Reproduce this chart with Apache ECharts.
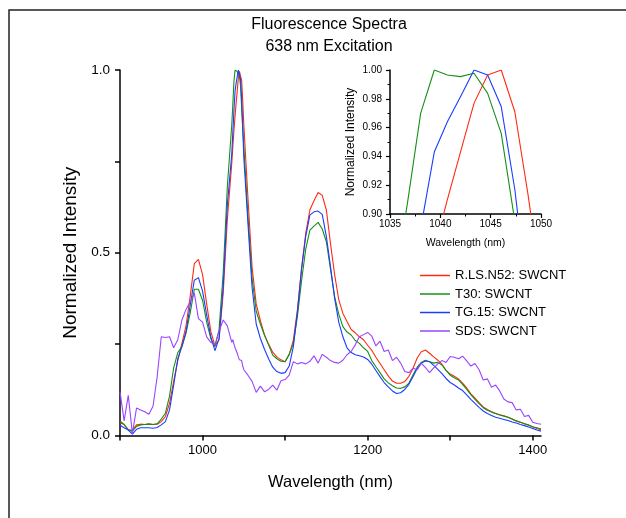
<!DOCTYPE html>
<html>
<head>
<meta charset="utf-8">
<script src="https://cdn.jsdelivr.net/npm/echarts@6/dist/echarts.min.js"></script>
<style>
  html, body { margin: 0; padding: 0; background: #fff; }
  #chart { width: 626px; height: 518px; }
</style>
</head>
<body>
<div id="chart"></div>
<script>
// wavelength grid (nm), finer around the 1045 nm peak shown in the inset
var wavelengths = [
  900, 905, 910, 915, 920, 925, 930, 935, 940, 945, 950, 955, 960, 965, 970, 975, 980, 985, 990, 995,
  1000, 1005, 1010, 1015, 1020, 1025, 1030,
  1035.4, 1036.7, 1038.05, 1039.4, 1040.7, 1042.0, 1043.35, 1044.7, 1046.05, 1047.4, 1048.7, 1050.0,
  1055, 1060, 1065, 1070, 1075, 1080, 1085, 1090, 1095, 1100,
  1105, 1110, 1115, 1120, 1125, 1130, 1135, 1140, 1145, 1150,
  1155, 1160, 1165, 1170, 1175, 1180, 1185, 1190, 1195, 1200,
  1205, 1210, 1215, 1220, 1225, 1230, 1235, 1240, 1245, 1250,
  1255, 1260, 1265, 1270, 1275, 1280, 1285, 1290, 1295, 1300,
  1305, 1310, 1315, 1320, 1325, 1330, 1335, 1340, 1345, 1350,
  1355, 1360, 1365, 1370, 1375, 1380, 1385, 1390, 1395, 1400,
  1405, 1410
]

var rlsN52 = [
  0.035, 0.03, 0.015, 0.015, 0.029, 0.031, 0.03, 0.032, 0.03, 0.031, 0.038, 0.052, 0.088, 0.148, 0.205, 0.252, 0.30, 0.38, 0.47, 0.482,
  0.44, 0.36, 0.285, 0.245, 0.262, 0.389, 0.59,
  0.745, 0.79, 0.835, 0.875, 0.91, 0.943, 0.977, 0.9965, 1.0, 0.971, 0.914, 0.85,
  0.65, 0.46, 0.36, 0.315, 0.275, 0.25, 0.228, 0.215, 0.207, 0.202,
  0.222, 0.261, 0.345, 0.458, 0.553, 0.617, 0.642, 0.665, 0.657, 0.617,
  0.525, 0.44, 0.372, 0.334, 0.312, 0.29, 0.281, 0.27, 0.262, 0.247,
  0.233, 0.214, 0.197, 0.18, 0.163, 0.149, 0.143, 0.143, 0.148, 0.162,
  0.184, 0.212, 0.229, 0.234, 0.225, 0.215, 0.206, 0.195, 0.178, 0.168,
  0.162, 0.155, 0.143, 0.13, 0.114, 0.102, 0.09, 0.078, 0.071, 0.065,
  0.06, 0.057, 0.054, 0.05, 0.045, 0.04, 0.036, 0.032, 0.028, 0.023,
  0.019, 0.016
]

var t30 = [
  0.04, 0.03, 0.016, 0.012, 0.025, 0.029, 0.03, 0.031, 0.03, 0.032, 0.045, 0.061, 0.108, 0.185, 0.227, 0.243, 0.28, 0.335, 0.4, 0.4,
  0.37, 0.31, 0.265, 0.243, 0.29, 0.444, 0.68,
  0.85, 0.906, 0.97, 1.0, 0.9965, 0.9954, 0.9977, 0.9838, 0.956, 0.895, 0.84, 0.79,
  0.6, 0.43, 0.34, 0.305, 0.275, 0.248, 0.22, 0.21, 0.203, 0.202,
  0.222, 0.252, 0.327, 0.425, 0.51, 0.562, 0.573, 0.583, 0.565, 0.53,
  0.455, 0.38, 0.332, 0.298, 0.283, 0.275, 0.26, 0.252, 0.24, 0.23,
  0.205, 0.188, 0.172, 0.155, 0.144, 0.136, 0.13, 0.129, 0.133, 0.143,
  0.166, 0.187, 0.2, 0.206, 0.202, 0.198, 0.2, 0.193, 0.178, 0.165,
  0.158, 0.152, 0.14, 0.126, 0.112, 0.099, 0.087, 0.076, 0.069, 0.064,
  0.06, 0.056, 0.053, 0.05, 0.045, 0.04, 0.036, 0.032, 0.029, 0.024,
  0.021, 0.018
]

var tg15 = [
  0.028, 0.021, 0.015, 0.004, 0.017, 0.021, 0.021, 0.021, 0.02, 0.022, 0.029, 0.038, 0.07, 0.138, 0.21, 0.243, 0.285, 0.355, 0.425, 0.432,
  0.395, 0.33, 0.27, 0.232, 0.265, 0.407, 0.63,
  0.77, 0.83, 0.89, 0.943, 0.964, 0.9815, 1.0, 0.9965, 0.9746, 0.917, 0.84, 0.76,
  0.58, 0.405, 0.305, 0.266, 0.236, 0.21, 0.187, 0.175, 0.17, 0.172,
  0.19, 0.243, 0.34, 0.457, 0.545, 0.603, 0.612, 0.614, 0.605, 0.544,
  0.462, 0.375, 0.31, 0.27, 0.24, 0.227, 0.221, 0.218, 0.215, 0.208,
  0.195, 0.178, 0.161, 0.145, 0.133, 0.122, 0.115, 0.117, 0.126, 0.14,
  0.161, 0.183, 0.198, 0.204, 0.202, 0.192, 0.181, 0.169, 0.156, 0.145,
  0.138, 0.13, 0.123, 0.111, 0.099, 0.088, 0.077, 0.067, 0.06, 0.055,
  0.05, 0.047, 0.044, 0.041, 0.037, 0.034, 0.03, 0.027, 0.023, 0.019,
  0.015, 0.012
]

var sds = [
  0.12, 0.04, 0.11, 0.005, 0.075, 0.07, 0.065, 0.058, 0.08, 0.16, 0.27, 0.268, 0.27, 0.24, 0.262, 0.316, 0.345, 0.366, 0.39, 0.32,
  0.31, 0.27, 0.255, 0.248, 0.285, 0.316, 0.3,
  0.255, 0.262, 0.25, 0.24, 0.235, 0.225, 0.215, 0.207, 0.21, 0.205, 0.19, 0.18,
  0.165, 0.148, 0.118, 0.135, 0.12, 0.126, 0.138, 0.124, 0.15, 0.153,
  0.165, 0.202, 0.196, 0.2, 0.196, 0.203, 0.218, 0.198, 0.222, 0.214,
  0.205, 0.2, 0.198, 0.206, 0.221, 0.23, 0.248, 0.27, 0.276, 0.282,
  0.272, 0.245, 0.258, 0.23, 0.234, 0.205, 0.214, 0.198, 0.175, 0.172,
  0.184, 0.18, 0.198, 0.186, 0.172, 0.185, 0.196, 0.205, 0.2, 0.216,
  0.214, 0.21, 0.217, 0.204, 0.19, 0.197, 0.18, 0.152, 0.155, 0.132,
  0.138, 0.122, 0.1, 0.092, 0.09, 0.07, 0.072, 0.052, 0.055, 0.036,
  0.033, 0.031
]

var seriesNames = ['R.LS.N52: SWCNT', 'T30: SWCNT', 'TG.15: SWCNT', 'SDS: SWCNT']
var seriesColors = ['#ff2a14', '#159015', '#1a3cff', '#9a44ff']
var seriesValues = [rlsN52, t30, tg15, sds]

var mainTicks = [900, 1000, 1100, 1200, 1300, 1400]
var mainLabels = [1000, 1200, 1400]
var yTicks = [0, 0.25, 0.5, 0.75, 1]
var yLabels = [0, 0.5, 1]

var font = 'Liberation Sans, Arial, sans-serif'

function pairs(arr) {
  return wavelengths.map(function (w, i) { return [w, arr[i]] })
}
function plain(v) { return String(v) }

var axisLine = { show: true, lineStyle: { color: '#000', width: 1.5 } }

var series = []
seriesValues.forEach(function (vals, i) {
  series.push({
    name: seriesNames[i], type: 'line', xAxisIndex: 0, yAxisIndex: 0,
    data: pairs(vals), symbol: 'none',
    lineStyle: { color: seriesColors[i], width: 1.1 },
    itemStyle: { color: seriesColors[i] }
  })
})
// inset: zoom on the main peak
for (var k = 0; k < 3; k++) {
  series.push({
    name: seriesNames[k], type: 'line', xAxisIndex: 1, yAxisIndex: 1,
    data: pairs(seriesValues[k]), symbol: 'none', clip: true,
    lineStyle: { color: seriesColors[k], width: 1.1 },
    itemStyle: { color: seriesColors[k] }
  })
}

var chart = echarts.init(document.getElementById('chart'))
var option = {
  animation: false,
  backgroundColor: '#fff',
  textStyle: { fontFamily: font },
  title: {
    text: 'Fluorescence Spectra\n638 nm Excitation',
    left: 324, top: 9, textAlign: 'center',
    textStyle: { fontFamily: font, fontSize: 16, fontWeight: 'normal', color: '#000', lineHeight: 21.6 }
  },
  graphic: [{
    type: 'rect', z: -10, silent: true,
    shape: { x: 9, y: 10, width: 700, height: 600 },
    style: { fill: 'none', stroke: '#222', lineWidth: 1.5 }
  }],
  legend: {
    data: seriesNames, orient: 'vertical', left: 415, top: 263,
    icon: 'rect', itemWidth: 30, itemHeight: 1.5, itemGap: 3.5,
    textStyle: { fontFamily: font, fontSize: 13, color: '#000', lineHeight: 15 }
  },
  grid: [
    { left: 120, top: 70, width: 421, height: 365.5 },
    { left: 390, top: 70, width: 151, height: 144 }
  ],
  xAxis: [{
    type: 'value', gridIndex: 0, min: 900, max: 1410,
    name: 'Wavelength (nm)', nameLocation: 'middle', nameGap: 38,
    nameTextStyle: { fontFamily: font, fontSize: 16.5, color: '#000' },
    axisLine: axisLine, splitLine: { show: false },
    axisTick: { customValues: mainTicks, length: 5, lineStyle: { color: '#000', width: 1.5 } },
    axisLabel: { customValues: mainLabels, formatter: plain, margin: 8, fontSize: 13, color: '#000', fontFamily: font }
  }, {
    type: 'value', gridIndex: 1, min: 1035, max: 1050, interval: 5,
    name: 'Wavelength (nm)', nameLocation: 'middle', nameGap: 24,
    nameTextStyle: { fontFamily: font, fontSize: 10.5, color: '#000' },
    axisLine: axisLine, splitLine: { show: false },
    axisTick: { length: 4, lineStyle: { color: '#000', width: 1.2 } },
    minorTick: { show: true, splitNumber: 2, length: 2.5, lineStyle: { color: '#000', width: 1 } },
    axisLabel: { formatter: plain, margin: 5, fontSize: 10, color: '#000', fontFamily: font }
  }],
  yAxis: [{
    type: 'value', gridIndex: 0, min: 0, max: 1,
    name: 'Normalized Intensity', nameLocation: 'middle', nameGap: 38,
    nameTextStyle: { fontFamily: font, fontSize: 19, color: '#000' },
    axisLine: axisLine, splitLine: { show: false },
    axisTick: { customValues: yTicks, length: 5, lineStyle: { color: '#000', width: 1.5 } },
    axisLabel: {
      customValues: yLabels, margin: 10, fontSize: 13.5, color: '#000', fontFamily: font,
      formatter: function (v) { return v.toFixed(1) }
    }
  }, {
    type: 'value', gridIndex: 1, min: 0.9, max: 1.0, interval: 0.02,
    name: 'Normalized Intensity', nameLocation: 'middle', nameGap: 33,
    nameTextStyle: { fontFamily: font, fontSize: 12, color: '#000' },
    axisLine: axisLine, splitLine: { show: false },
    axisTick: { length: 4, lineStyle: { color: '#000', width: 1.2 } },
    minorTick: { show: true, splitNumber: 2, length: 2.5, lineStyle: { color: '#000', width: 1 } },
    axisLabel: {
      margin: 8, fontSize: 10, color: '#000', fontFamily: font,
      formatter: function (v) { return v.toFixed(2) }
    }
  }],
  series: series
}
chart.setOption(option)
</script>
</body>
</html>
